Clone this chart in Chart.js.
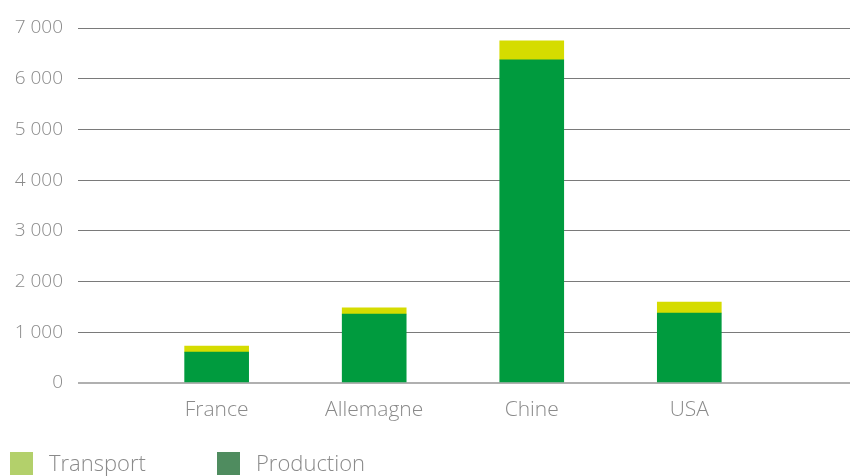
<!DOCTYPE html>
<html>
<head>
<meta charset="utf-8">
<script src="https://cdn.jsdelivr.net/npm/chart.js@4/dist/chart.umd.min.js"></script>
<style>
  html, body { margin: 0; padding: 0; background: #fff; }
  #wrap { width: 850px; height: 476px; }
</style>
</head>
<body>
<div id="wrap"><canvas id="myChart"></canvas></div>
<script>
// Données
const categories = ['France', 'Allemagne', 'Chine', 'USA'];
const production = [610, 1360, 6370, 1380];
const transport = [120, 120, 375, 215];
const yTicks = [0, 1000, 2000, 3000, 4000, 5000, 6000, 7000];

// Couleurs
const barColors = { transport: '#d5dc00', production: '#009b3e' };
const legendColors = { transport: '#b3d06b', production: '#4f8c5f' };
const textColor = '#8a8a8a';
const fontFamily = "'Open Sans', 'Noto Sans', sans-serif";

// Formater 7000 -> "7 000"
function formatNombre(v) {
    return String(v).replace(/\B(?=(\d{3})+(?!\d))/g, ' ');
}

// Légende dessinée à la main (couleurs différentes des barres)
const legendePlugin = {
    id: 'legende',
    afterDraw(chart) {
        const ctx = chart.ctx;
        const items = [
            { label: 'Transport', color: legendColors.transport, x: 10 },
            { label: 'Production', color: legendColors.production, x: 217 }
        ];
        ctx.save();
        ctx.font = '300 22px ' + fontFamily;
        ctx.textBaseline = 'middle';
        items.forEach(it => {
            ctx.fillStyle = it.color;
            ctx.fillRect(it.x, 452, 23, 23);
            ctx.fillStyle = textColor;
            ctx.fillText(it.label, it.x + 39, 465);
        });
        ctx.restore();
    }
};

const ctx = document.getElementById('myChart').getContext('2d');

const chart = new Chart(ctx, {
    type: 'bar',
    data: {
        datasets: [
            {
                label: 'Production',
                data: categories.map((c, i) => ({ x: i + 1, y: production[i] })),
                backgroundColor: barColors.production,
                barThickness: 64
            },
            {
                label: 'Transport',
                data: categories.map((c, i) => ({ x: i + 1, y: transport[i] })),
                backgroundColor: barColors.transport,
                barThickness: 64
            }
        ]
    },
    options: {
        responsive: true,
        maintainAspectRatio: false,
        animation: false,
        events: [],
        layout: {
            padding: { left: 15, right: 0, top: 28, bottom: 48 }
        },
        scales: {
            x: {
                type: 'linear',
                offset: false,
                stacked: true,
                min: 0.12,
                max: 5.02,
                afterBuildTicks: axis => {
                    axis.ticks = categories.map((c, i) => ({ value: i + 1 }));
                },
                afterFit: s => { s.height = 45; },
                grid: { display: false, drawTicks: false },
                border: { display: false },
                ticks: {
                    autoSkip: false,
                    maxRotation: 0,
                    padding: 14,
                    color: textColor,
                    font: { family: fontFamily, size: 21, weight: 300 },
                    callback: v => categories[v - 1] || ''
                }
            },
            y: {
                stacked: true,
                min: 0,
                max: 7000,
                afterBuildTicks: axis => {
                    axis.ticks = yTicks.map(v => ({ value: v }));
                },
                afterFit: s => { s.width = 63; },
                grid: {
                    drawTicks: false,
                    color: c => c.tick && c.tick.value === 0 ? '#b0b0b0' : '#7a7a7a',
                    lineWidth: c => c.tick && c.tick.value === 0 ? 2 : 1
                },
                border: { display: false },
                ticks: {
                    padding: 15,
                    color: textColor,
                    font: { family: fontFamily, size: 19, weight: 300 },
                    callback: v => formatNombre(v)
                }
            }
        },
        plugins: {
            legend: { display: false },
            tooltip: { enabled: false }
        }
    },
    plugins: [legendePlugin]
});
</script>
</body>
</html>
